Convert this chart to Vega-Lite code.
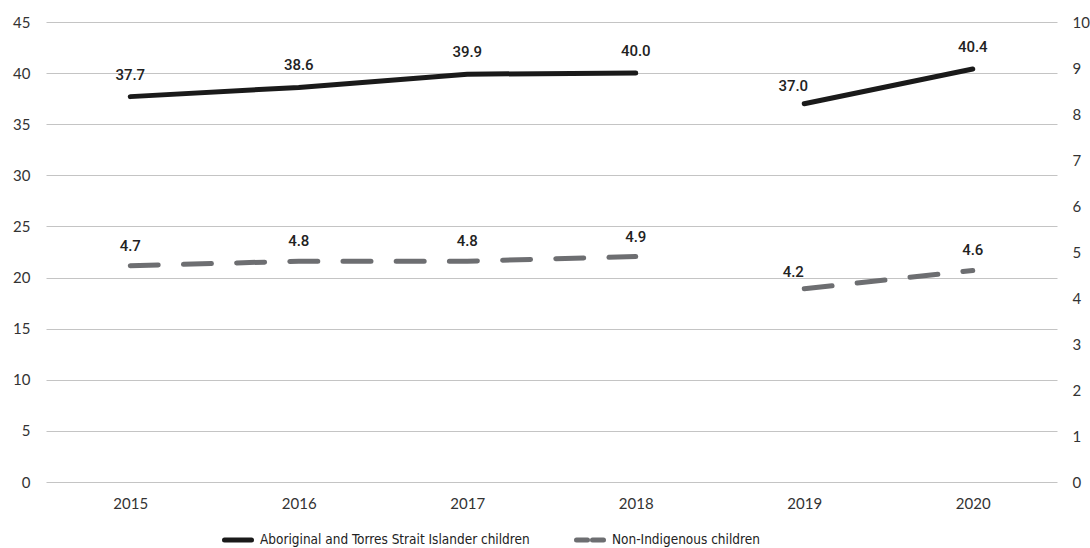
{
  "$schema": "https://vega.github.io/schema/vega-lite/v6.json",
  "width": 1011,
  "height": 460,
  "autosize": "none",
  "padding": {"left": 46, "top": 22, "right": 33, "bottom": 66},
  "background": "white",
  "config": {
    "view": {"stroke": null},
    "font": "Lato",
    "axis": {
      "labelFont": "Lato",
      "labelFontSize": 15,
      "labelColor": "#333333",
      "domain": false,
      "ticks": false,
      "title": null
    },
    "legend": {
      "labelFont": "Liberation Sans Narrow, DejaVu Sans Condensed, sans-serif",
      "labelFontSize": 13.5,
      "labelColor": "#222222",
      "labelLimit": 400
    }
  },
  "data": {
    "values": [
      {"year": "2015", "series": "Aboriginal and Torres Strait Islander children", "period": "2015-2018", "value": 37.7},
      {"year": "2016", "series": "Aboriginal and Torres Strait Islander children", "period": "2015-2018", "value": 38.6},
      {"year": "2017", "series": "Aboriginal and Torres Strait Islander children", "period": "2015-2018", "value": 39.9},
      {"year": "2018", "series": "Aboriginal and Torres Strait Islander children", "period": "2015-2018", "value": 40.0},
      {"year": "2019", "series": "Aboriginal and Torres Strait Islander children", "period": "2019-2020", "value": 37.0},
      {"year": "2020", "series": "Aboriginal and Torres Strait Islander children", "period": "2019-2020", "value": 40.4},
      {"year": "2015", "series": "Non-Indigenous children", "period": "2015-2018", "value": 4.7},
      {"year": "2016", "series": "Non-Indigenous children", "period": "2015-2018", "value": 4.8},
      {"year": "2017", "series": "Non-Indigenous children", "period": "2015-2018", "value": 4.8},
      {"year": "2018", "series": "Non-Indigenous children", "period": "2015-2018", "value": 4.9},
      {"year": "2019", "series": "Non-Indigenous children", "period": "2019-2020", "value": 4.2},
      {"year": "2020", "series": "Non-Indigenous children", "period": "2019-2020", "value": 4.6}
    ]
  },
  "encoding": {
    "x": {
      "field": "year",
      "type": "ordinal",
      "scale": {"type": "point", "padding": 0.5},
      "axis": {"labelAngle": 0, "labelPadding": 14, "grid": false}
    }
  },
  "layer": [
    {
      "transform": [{"filter": "datum.series === 'Aboriginal and Torres Strait Islander children'"}],
      "encoding": {
        "y": {
          "field": "value",
          "type": "quantitative",
          "scale": {"domain": [0, 45], "nice": false},
          "axis": {
            "orient": "left",
            "values": [0, 5, 10, 15, 20, 25, 30, 35, 40, 45],
            "grid": true,
            "gridColor": "#c4c4c4",
            "gridWidth": 1,
            "labelPadding": 16
          }
        }
      },
      "layer": [
        {
          "mark": {"type": "line", "strokeWidth": 5, "strokeCap": "round", "strokeJoin": "round"},
          "encoding": {
            "detail": {"field": "period"},
            "color": {
              "field": "series",
              "type": "nominal",
              "scale": {
                "domain": ["Aboriginal and Torres Strait Islander children", "Non-Indigenous children"],
                "range": ["#1a1a1a", "#6d6e71"]
              },
              "legend": {
                "orient": "none",
                "legendX": 176,
                "legendY": 502,
                "direction": "horizontal",
                "title": null,
                "symbolType": "stroke",
                "symbolSize": 729,
                "symbolStrokeWidth": 5,
                "columnPadding": 36,
                "labelOffset": 6,
                "encode": {
                  "symbols": {
                    "update": {
                      "strokeDash": [
                        {"test": "datum.value === 'Non-Indigenous children'", "value": [11, 5]},
                        {"value": [1, 0]}
                      ],
                      "strokeCap": {"value": "round"}
                    }
                  }
                }
              }
            }
          }
        },
        {
          "transform": [{"filter": "datum.year !== '2019'"}],
          "mark": {"type": "text", "dy": -22, "fontSize": 15, "fontWeight": 500, "color": "#222222", "font": "Roboto"},
          "encoding": {"text": {"field": "value", "type": "quantitative", "format": ".1f"}}
        },
        {
          "transform": [{"filter": "datum.year === '2019'"}],
          "mark": {"type": "text", "dy": -18, "dx": -11, "fontSize": 15, "fontWeight": 500, "color": "#222222", "font": "Roboto"},
          "encoding": {"text": {"field": "value", "type": "quantitative", "format": ".1f"}}
        }
      ]
    },
    {
      "transform": [{"filter": "datum.series === 'Non-Indigenous children'"}],
      "encoding": {
        "y": {
          "field": "value",
          "type": "quantitative",
          "scale": {"domain": [0, 10], "nice": false},
          "axis": {
            "orient": "right",
            "values": [0, 1, 2, 3, 4, 5, 6, 7, 8, 9, 10],
            "grid": false,
            "labelPadding": 15
          }
        }
      },
      "layer": [
        {
          "mark": {"type": "line", "strokeWidth": 5, "strokeCap": "round", "strokeJoin": "round", "strokeDash": [28, 25.2]},
          "encoding": {
            "detail": {"field": "period"},
            "color": {"field": "series", "type": "nominal"}
          }
        },
        {
          "transform": [{"filter": "datum.year !== '2019'"}],
          "mark": {"type": "text", "dy": -20, "fontSize": 15, "fontWeight": 500, "color": "#222222", "font": "Roboto"},
          "encoding": {"text": {"field": "value", "type": "quantitative", "format": ".1f"}}
        },
        {
          "transform": [{"filter": "datum.year === '2019'"}],
          "mark": {"type": "text", "dy": -17, "dx": -11, "fontSize": 15, "fontWeight": 500, "color": "#222222", "font": "Roboto"},
          "encoding": {"text": {"field": "value", "type": "quantitative", "format": ".1f"}}
        }
      ]
    }
  ],
  "resolve": {"scale": {"y": "independent"}, "axis": {"y": "independent"}}
}
